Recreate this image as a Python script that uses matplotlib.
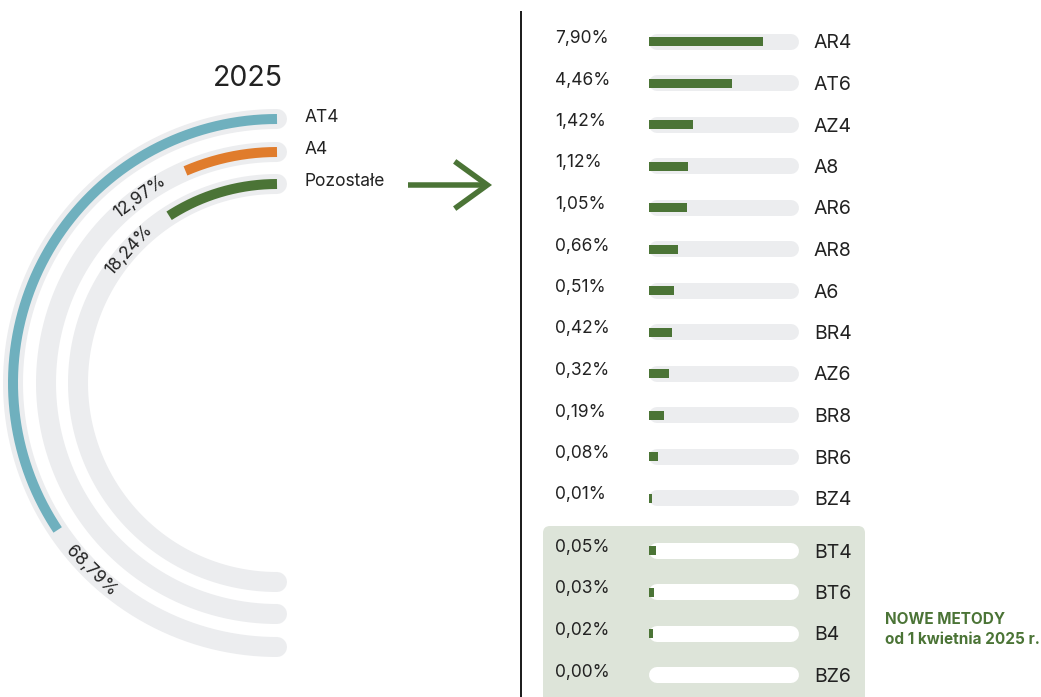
import numpy as np
import matplotlib
matplotlib.use("Agg")
import matplotlib.pyplot as plt
from matplotlib.patches import FancyBboxPatch, FancyArrowPatch, ArrowStyle
from matplotlib.lines import Line2D
from matplotlib.transforms import IdentityTransform

plt.rcParams['font.family'] = ['Inter', 'DejaVu Sans']

# ---------------- data ----------------
year_title = "2025"
radial_labels = ["AT4", "A4", "Pozostałe"]
radial_values = [68.79, 12.97, 18.24]

bar_categories = ["AR4", "AT6", "AZ4", "A8", "AR6", "AR8", "A6", "BR4",
                  "AZ6", "BR8", "BR6", "BZ4", "BT4", "BT6", "B4", "BZ6"]
bar_values = [7.90, 4.46, 1.42, 1.12, 1.05, 0.66, 0.51, 0.42,
              0.32, 0.19, 0.08, 0.01, 0.05, 0.03, 0.02, 0.00]
new_methods_count = 4
new_methods_note = ["NOWE METODY", "od 1 kwietnia 2025 r."]

# ---------------- styles ----------------
W, H, DPI = 1041, 697, 100
PX = 72 / DPI
TEXT = "#222222"
TRACK = "#ecedef"
GREEN = "#4b7436"
BOX = "#dde4d9"
radial_colors = ["#6fb0be", "#e07c2c", "#4b7436"]


def fmt(v):
    return f"{v:.2f}%".replace(".", ",")


def fx(px):
    return px / W


def fy(py):
    return 1 - py / H


fig = plt.figure(figsize=(W / DPI, H / DPI), dpi=DPI)
fig.patch.set_facecolor("white")

# ---------------- radial (polar) part ----------------
cx, cy, R = 277, 383, 280
pax = fig.add_axes([fx(cx - R), fy(cy + R), 2 * R / W, 2 * R / H], projection="polar")
pax.set_theta_zero_location("N")
pax.set_theta_direction(1)
pax.set_rlim(0, R)
pax.axis("off")
pax.patch.set_visible(False)

radii = [264, 231, 199]
for lab, v, col, r in zip(radial_labels, radial_values, radial_colors, radii):
    th = np.linspace(0, np.pi, 400)
    pax.plot(th, np.full_like(th, r), color=TRACK, lw=20 * PX, solid_capstyle="round", zorder=1)
    te = v / 100 * np.pi
    thv = np.linspace(0, te, 300)
    pax.plot(thv, np.full_like(thv, r), color=col, lw=10 * PX, solid_capstyle="butt", zorder=2)
    tl = te + 53 / r
    rot = np.degrees(tl)
    if rot > 90:
        rot -= 180
    pax.text(tl, r, fmt(v), rotation=rot, rotation_mode="anchor", ha="center", va="center",
             fontsize=12.5, color=TEXT, zorder=3)
    pax.annotate(lab, xy=(0, r), xytext=(28 * PX, 2 * PX), textcoords="offset points",
                 ha="left", va="center", fontsize=12.5, color=TEXT, annotation_clip=False)

fig.text(fx(248), fy(78), year_title, ha="center", va="center", fontsize=20.5, color=TEXT)

# arrow
arrow = FancyArrowPatch(posA=(408, H - 185), posB=(492, H - 185), transform=IdentityTransform(),
                        arrowstyle=ArrowStyle("->", head_length=23.5, head_width=17),
                        mutation_scale=1, lw=5.5 * PX, color=GREEN, shrinkA=0, shrinkB=0,
                        joinstyle="miter", capstyle="butt")
fig.add_artist(arrow)

# vertical separator
fig.add_artist(Line2D([520.5, 520.5], [H - 12, -5], transform=IdentityTransform(),
                      color="#1f1f1f", lw=2 * PX))

# new methods box
box = FancyBboxPatch((543, -20), 865 - 543, 717 - 526,
                     boxstyle="round,pad=0,rounding_size=7", transform=IdentityTransform(),
                     facecolor=BOX, edgecolor="none", zorder=-1)
fig.add_artist(box)

# ---------------- bar part ----------------
bax = fig.add_axes([fx(649), 0, 150 / W, 1])
p = 0.55
bax.set_xscale("function", functions=(lambda x: np.power(np.clip(x, 0, None), p),
                                      lambda y: np.power(np.clip(y, 0, None), 1 / p)))
bax.set_xlim(0, 13.0)
bax.set_ylim(H, 0)
bax.patch.set_visible(False)
for s in bax.spines.values():
    s.set_visible(False)

n = len(bar_categories)
n_old = n - new_methods_count
ypos = [41.5 + 41.5 * i + (11 if i >= n_old else 0) for i in range(n)]

for i, y in enumerate(ypos):
    tc = "white" if i >= n_old else TRACK
    bax.plot([8 / 150, 142 / 150], [y, y], transform=bax.get_yaxis_transform(),
             color=tc, lw=16 * PX, solid_capstyle="round", clip_on=False, zorder=1)

bax.barh(ypos, bar_values, height=9, color=GREEN, zorder=3)

for v, y in zip(bar_values, ypos):
    bax.annotate(fmt(v), xy=(0, y), xycoords=("axes fraction", "data"),
                 xytext=(-94 * PX, 3 * PX), textcoords="offset points",
                 ha="left", va="center", fontsize=12.5, color=TEXT, annotation_clip=False)

bax.set_yticks(ypos, labels=bar_categories)
bax.yaxis.tick_right()
bax.tick_params(axis="y", length=0, pad=15 * PX, labelsize=14, labelcolor=TEXT)
bax.tick_params(axis="x", which="both", bottom=False, labelbottom=False)
bax.tick_params(axis="y", which="minor", right=False, left=False)

fig.text(fx(885), fy(620), new_methods_note[0], ha="left", va="center",
         fontsize=11, fontweight="bold", color=GREEN)
fig.text(fx(885), fy(639), new_methods_note[1], ha="left", va="center",
         fontsize=11, fontweight="bold", color=GREEN)

fig.savefig("out.png", dpi=DPI)
